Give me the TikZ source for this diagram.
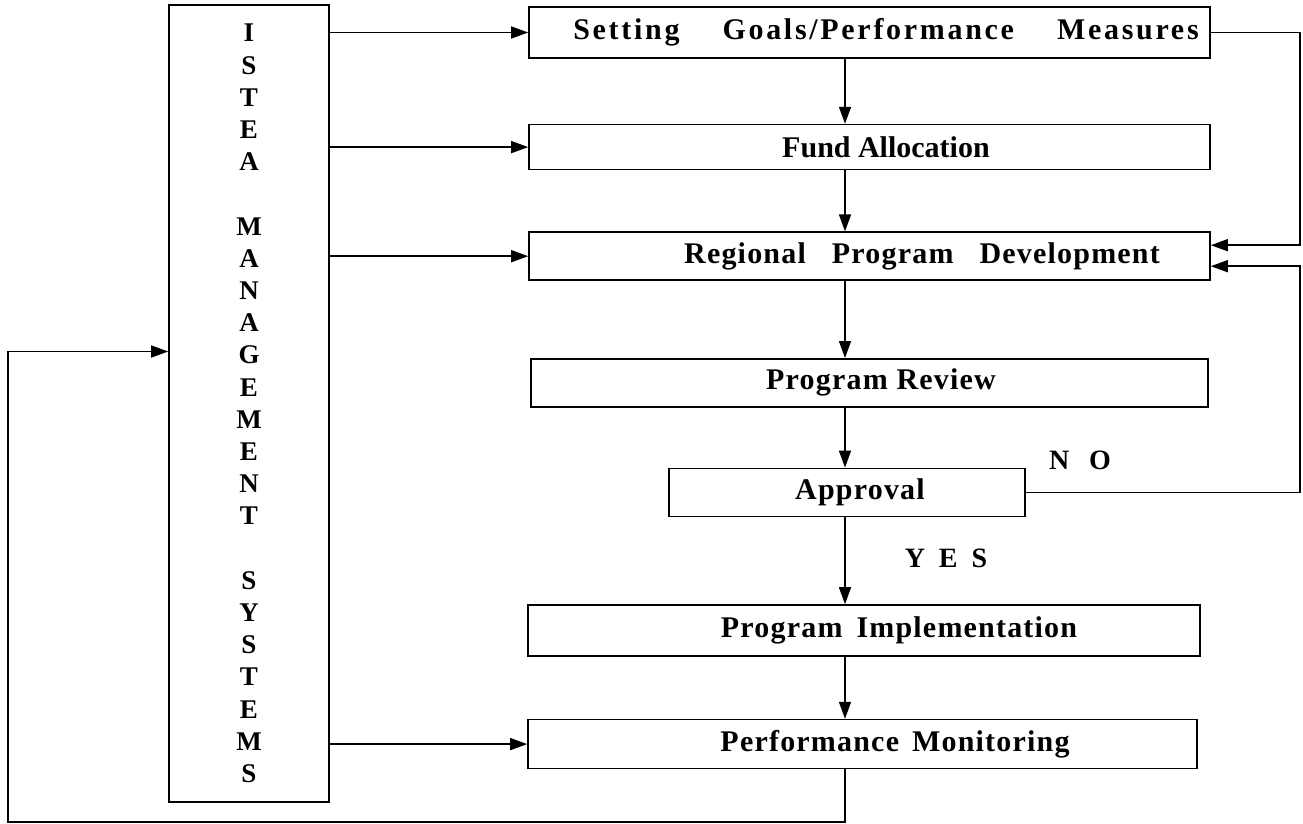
\documentclass[tikz,border=0pt]{standalone}
\usepackage{fontspec}
\setmainfont{Liberation Serif}
\newfontfamily\trackedfont[LetterSpace=4]{Liberation Serif}
\newfontfamily\widefont[LetterSpace=9]{Liberation Serif}
\usetikzlibrary{arrows.meta, positioning}
\tikzset{%
  stage/.style={draw, line width=1.6pt, inner sep=0pt,
    font=\trackedfont\bfseries\fontsize{30}{32}\selectfont},
  sidebar/.style={draw, line width=1.6pt, align=center,
    font=\bfseries\fontsize{27}{32.2}\selectfont},
  flow/.style={line width=1.5pt, -{Triangle[length=17pt,width=12pt]}},
  answer/.style={inner sep=0pt, font=\bfseries\fontsize{28}{30}\selectfont}
}

\begin{document}
\begin{tikzpicture}[x=1pt, y=-1pt]
  \useasboundingbox (0,0) rectangle (1303,824);

  \node[sidebar, minimum width=160pt, minimum height=797pt] (istea) at (249,403.5)
    {I\\S\\T\\E\\A\\\mbox{}\\M\\A\\N\\A\\G\\E\\M\\E\\N\\T\\\mbox{}\\S\\Y\\S\\T\\E\\M\\S};

  \node[stage, minimum width=681pt, minimum height=51pt] (setting) at (869.5,32.5)
    {\widefont\bfseries\spaceskip=43pt \hspace*{33pt}Setting Goals/Performance Measures};
  \node[stage, minimum width=681pt, minimum height=45pt, below=65pt of setting] (fund)
    {\normalfont\bfseries\hspace*{33pt}Fund Allocation};
  \node[stage, minimum width=681pt, minimum height=48pt, below=61pt of fund] (regional)
    {\spaceskip=26pt \hspace*{105pt}Regional Program Development};
  \node[stage, minimum width=677pt, minimum height=48pt, below=77pt of regional] (review)
    {\hspace*{23pt}Program Review};
  \node[stage, minimum width=356pt, minimum height=48pt, below=60pt of review, xshift=-22.5pt] (approval)
    {\hspace*{26pt}Approval};
  \node[stage, minimum width=672pt, minimum height=51pt, below=87pt of approval, xshift=17pt] (impl)
    {\spaceskip=14pt \hspace*{70pt}Program Implementation};
  \node[stage, minimum width=669pt, minimum height=49pt, below=62pt of impl, xshift=-1.5pt] (monitor)
    {\spaceskip=13pt \hspace*{65pt}Performance Monitoring};

  \node[answer] (no) at (1080,460) {\spaceskip=20pt N O};
  \node[answer] (yes) at (946,558) {\spaceskip=14pt Y E S};

  \coordinate (spine) at (845,0);
  \coordinate (rail) at (1300,0);
  \coordinate (loop) at (8,822);

  \draw[flow] (istea.east |- setting.west) -- (setting.west);
  \draw[flow] (istea.east |- fund.west) -- (fund.west);
  \draw[flow] (istea.east |- regional.west) -- (regional.west);
  \draw[flow] (istea.east |- monitor.west) -- (monitor.west);

  \draw[flow] (setting.south -| spine) -- (fund.north -| spine);
  \draw[flow] (fund.south -| spine) -- (regional.north -| spine);
  \draw[flow] (regional.south -| spine) -- (review.north -| spine);
  \draw[flow] (review.south -| spine) -- (approval.north -| spine);
  \draw[flow] (approval.south -| spine) -- (impl.north -| spine);
  \draw[flow] (impl.south -| spine) -- (monitor.north -| spine);

  \draw[flow] (setting.east) -| ([yshift=11pt]regional.east -| rail) -- ([yshift=11pt]regional.east);
  \draw[flow] (approval.east) -| ([yshift=-10pt]regional.east -| rail) -- ([yshift=-10pt]regional.east);
  \draw[flow] (monitor.south -| spine) |- (loop) |- ([yshift=52pt]istea.west);
\end{tikzpicture}
\end{document}
